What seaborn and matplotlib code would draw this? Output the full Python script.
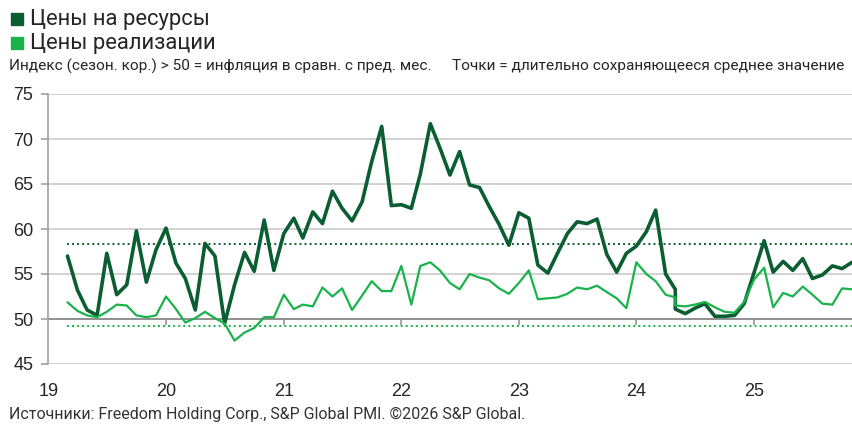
import pandas as pd
import seaborn as sns
import matplotlib.pyplot as plt
from matplotlib.patches import Rectangle

# monthly PMI price indices, Mar 2019 - Nov 2025 (May 2024 appears twice in the source)
input_prices = [57.0, 53.2, 51.0, 50.4, 57.3, 52.7, 53.8, 59.8, 54.1, 57.7,
                60.1, 56.2, 54.5, 51.0, 58.4, 57.0, 49.5, 53.8, 57.4, 55.3, 61.0, 55.4,
                59.5, 61.2, 59.0, 61.9, 60.6, 64.2, 62.3, 60.9, 63.0, 67.5, 71.4, 62.6,
                62.7, 62.3, 66.1, 71.7, 69.0, 66.0, 68.6, 64.9, 64.6, 62.5, 60.5, 58.2,
                61.8, 61.2, 56.0, 55.1, 57.3, 59.5, 60.8, 60.6, 61.1, 57.2, 55.2, 57.3,
                58.1, 59.7, 62.1, 55.0, 53.3, 51.1, 50.6, 51.2, 51.7, 50.3, 50.3, 50.4, 51.7,
                55.2, 58.7, 55.2, 56.4, 55.4, 56.7, 54.5, 54.9, 55.9, 55.6, 56.3]
output_prices = [51.85, 50.9, 50.4, 50.2, 50.8, 51.6, 51.5, 50.4, 50.2, 50.4,
                 52.5, 51.1, 49.6, 50.1, 50.8, 50.1, 49.5, 47.6, 48.5, 49.0, 50.2, 50.2,
                 52.7, 51.1, 51.6, 51.4, 53.5, 52.5, 53.4, 51.0, 52.6, 54.2, 53.1, 53.1,
                 55.9, 51.6, 55.9, 56.3, 55.4, 54.0, 53.3, 55.0, 54.6, 54.3, 53.4, 52.8,
                 54.0, 55.4, 52.2, 52.3, 52.4, 52.8, 53.5, 53.3, 53.7, 53.0, 52.3, 51.2,
                 56.3, 55.0, 54.2, 52.7, 52.4, 51.5, 51.4, 51.6, 51.9, 51.3, 50.8, 50.7, 51.9,
                 54.4, 55.7, 51.3, 52.9, 52.5, 53.6, 52.7, 51.7, 51.6, 53.4, 53.3]
input_avg = 58.3
output_avg = 49.2
year_labels = ['19', '20', '21', '22', '23', '24', '25']

dates = list(pd.date_range('2019-03-01', '2025-11-01', freq='MS'))
dup = dates.index(pd.Timestamp('2024-05-01'))
dates.insert(dup, dates[dup])

df = pd.DataFrame({'date': dates, 'Цены на ресурсы': input_prices,
                   'Цены реализации': output_prices})
long_df = df.melt('date', var_name='series', value_name='value')

dark = '#0B5E32'
light = '#19B24B'

sns.set_style('white')
plt.rcParams['font.family'] = ['Liberation Sans', 'DejaVu Sans']

fig = plt.figure(figsize=(8.53, 4.25), dpi=100)
ax = fig.add_axes([48.5 / 853, 1 - 364 / 425, 1 - 48.5 / 853, 270 / 425])

sns.lineplot(data=long_df, x='date', y='value', hue='series',
             palette={'Цены на ресурсы': dark, 'Цены реализации': light},
             estimator=None, sort=False, legend=False, ax=ax)
ax.lines[0].set_linewidth(2.6)
ax.lines[1].set_linewidth(1.6)

ax.hlines(input_avg, dates[0], dates[-1], color=dark, lw=1.4, linestyles=(0, (1, 1.6)), zorder=1)
ax.hlines(output_avg, dates[0], dates[-1], color=light, lw=1.4, linestyles=(0, (1, 1.6)), zorder=1)

ax.set_xlim(pd.Timestamp('2019-01-01'), pd.Timestamp('2025-11-04'))
ax.set_ylim(45, 75)
ax.set_yticks(range(45, 80, 5))
ax.grid(axis='y', color='#c6c6c6', lw=1.1)
ax.set_axisbelow(True)

year_ticks = [pd.Timestamp(f'20{y}-01-01') for y in year_labels]
ax.set_xticks(year_ticks)
ax.set_xticklabels(year_labels)
ax.tick_params(axis='x', length=0, pad=14, labelsize=13)
ax.tick_params(axis='y', length=5, width=1.1, color='#999999', pad=6, labelsize=13, left=True)
ax.axhline(50, color='#8c8c8c', lw=1.3, zorder=1.5)
ax.vlines(year_ticks[1:], 49.3, 50, color='#8c8c8c', lw=1.1)

for s in ['top', 'right', 'bottom']:
    ax.spines[s].set_visible(False)
ax.spines['left'].set_color('#999999')
ax.spines['left'].set_linewidth(1.1)
ax.set_xlabel('')
ax.set_ylabel('')

txt_font = ['Roboto', 'DejaVu Sans']
fig.patches.append(Rectangle((11 / 853, 1 - 25 / 425), 12 / 853, 12 / 425,
                             transform=fig.transFigure, color=dark))
fig.patches.append(Rectangle((11 / 853, 1 - 49 / 425), 12 / 853, 12 / 425,
                             transform=fig.transFigure, color=light))
fig.text(30 / 853, 1 - 19 / 425, 'Цены на ресурсы', fontsize=15.8, va='center', family=txt_font)
fig.text(30 / 853, 1 - 43 / 425, 'Цены реализации', fontsize=15.8, va='center', family=txt_font)
fig.text(9 / 853, 1 - 66 / 425, 'Индекс (сезон. кор.) > 50 = инфляция в сравн. с пред. мес.',
         fontsize=11.1, va='center', family=txt_font)
fig.text(452 / 853, 1 - 66 / 425, 'Точки = длительно сохраняющееся среднее значение',
         fontsize=11.1, va='center', family=txt_font)
fig.text(9 / 853, 1 - 414 / 425, 'Источники: Freedom Holding Corp., S&P Global PMI. ©2026 S&P Global.',
         fontsize=11.5, va='center', color='#333333', family=txt_font)

fig.savefig('out.png', dpi=100)
